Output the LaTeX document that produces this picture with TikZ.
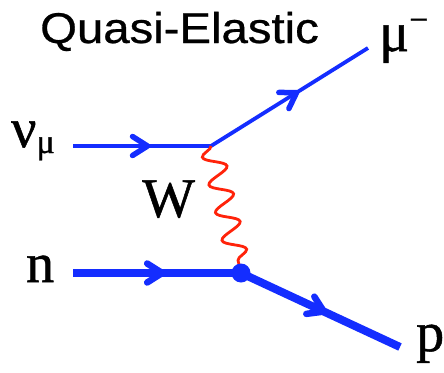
\documentclass[tikz,border=0pt]{standalone}
\usepackage{fontspec}
\setmainfont{Liberation Serif}
\newfontfamily\lblfont[FakeBold=0.9]{Liberation Serif}
\newfontfamily\ttlfont[FakeBold=0.6]{Liberation Sans}
\usetikzlibrary{positioning,arrows.meta,decorations.pathmorphing,decorations.markings}
\definecolor{cferm}{RGB}{20,45,255}
\definecolor{cboson}{RGB}{255,35,10}

\begin{document}
\begin{tikzpicture}[
  x=1pt, y=-1pt,
  fermion/.style={draw=cferm, line width=3.8pt,
    postaction={decorate, decoration={markings,
      mark=at position #1 with {\arrow[cferm]{Straight Barb[length=15pt, width=19pt, line width=5.5pt, round]}}}}},
  fermion/.default=0.56,
  nucleon/.style={draw=cferm, line width=8pt,
    postaction={decorate, decoration={markings,
      mark=at position #1 with {\arrow[cferm]{Straight Barb[length=15pt, width=19pt, line width=6.5pt, round]}}}}},
  nucleon/.default=0.55,
  boson/.style={draw=cboson, line width=2.8pt,
    decorate, decoration={snake, mirror, amplitude=11pt, segment length=28.5pt}},
  lbl/.style={font=\lblfont\fontsize{56}{60}\selectfont, inner sep=0pt, anchor=base west},
  title/.style={font=\ttlfont\fontsize{43}{46}\selectfont, inner sep=0pt, anchor=base west}
]
\useasboundingbox (0,0) rectangle (444,372);

% ---------- vertices and end points ----------
\coordinate (nuin) at (73,146);
\coordinate (vtop) at (211,146);
\coordinate (muout) at (368,48);
\coordinate (nin)  at (73,273);
\coordinate (vbot) at (241,273);
\coordinate (pout) at (400,347);

% ---------- lines ----------
\draw[fermion] (nuin) -- (vtop);
\draw[fermion=0.56] (vtop) -- (muout);
\draw[nucleon] (nin) -- (vbot);
\draw[nucleon=0.54] (vbot) -- (pout);
\draw[boson] (vtop) -- (vbot);
\fill[cferm] (vbot) circle (9.5pt);

% ---------- labels ----------
\node[title] (ttl) at (40,43) {\scalebox{1.1}[1]{Quasi-Elastic}};
\node[lbl] (nu) at (11,147) {ν\raisebox{-6pt}{\fontsize{34}{36}\selectfont μ}};
\node[lbl] (wlbl) at (142,217) {W};
\node[lbl] (n) at (26,282) {n};
\node[lbl] (mu) at (379,51) {μ\raisebox{20pt}{\fontsize{34}{36}\selectfont −}};
\node[lbl] (p) at (416,351) {p};

\end{tikzpicture}
\end{document}
